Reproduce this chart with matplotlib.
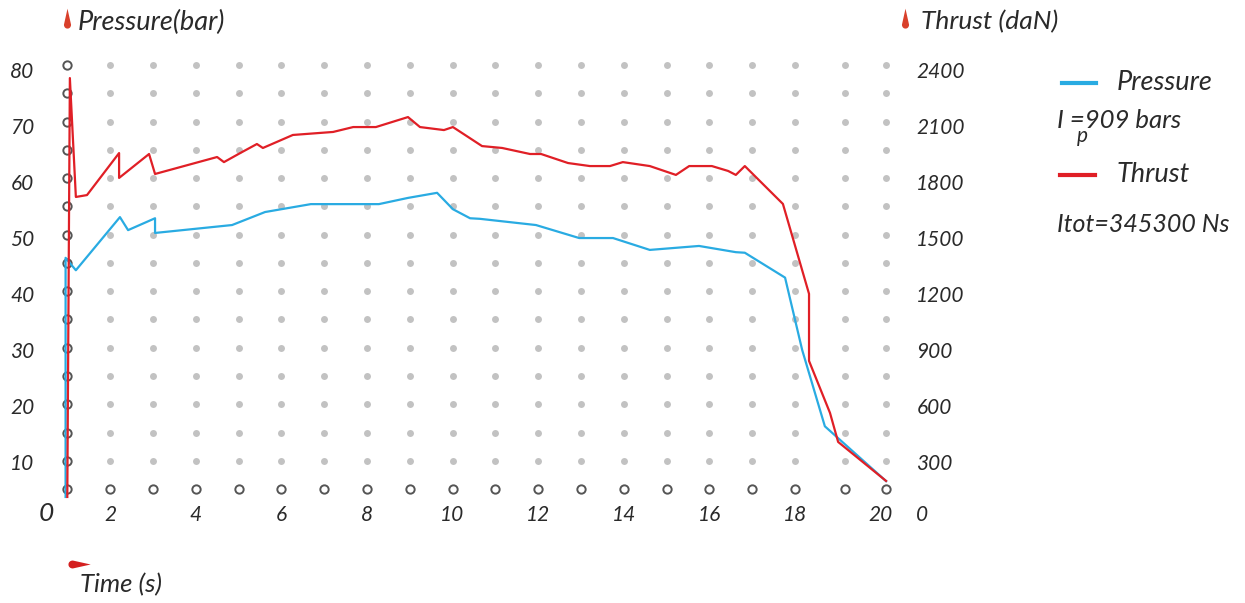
import matplotlib
matplotlib.use("Agg")
import matplotlib.pyplot as plt
from matplotlib.path import Path
from matplotlib.lines import Line2D
from matplotlib.transforms import ScaledTranslation

# ---- data ----
pressure_t = [0.96, 0.96, 1.20, 2.23, 2.42, 3.05, 3.05, 4.85, 5.62, 6.69, 8.28, 8.96, 9.64,
              10.01, 10.41, 10.64, 11.95, 12.96, 13.75, 14.61, 15.76, 16.62, 16.83, 17.77,
              18.17, 18.70, 20.13]
pressure_bar = [3.6, 45.9, 43.7, 53.1, 50.8, 52.9, 50.3, 51.7, 54.0, 55.4, 55.4, 56.5, 57.4,
                54.5, 52.9, 52.8, 51.7, 49.4, 49.4, 47.3, 48.0, 46.9, 46.8, 42.4,
                29.6, 16.1, 6.4]

thrust_t = [1.00, 1.06, 1.20, 1.46, 2.21, 2.21, 2.91, 3.05, 4.50, 4.66, 5.04, 5.43, 5.57,
            6.27, 7.21, 7.68, 8.21, 8.96, 9.24, 9.80, 10.01, 10.69, 11.16, 11.81, 12.07,
            12.70, 13.21, 13.68, 13.98, 14.61, 15.22, 15.53, 16.06, 16.44, 16.62, 16.83,
            17.72, 18.33, 18.33, 18.82, 19.01, 20.13]
thrust_dan = [108, 2331, 1700, 1710, 1933, 1801, 1928, 1822, 1912, 1885, 1933, 1981, 1960,
              2029, 2045, 2071, 2071, 2124, 2071, 2055, 2071, 1970, 1960, 1928, 1928,
              1880, 1864, 1864, 1885, 1864, 1817, 1864, 1864, 1838, 1817, 1864,
              1663, 1186, 830, 554, 400, 193]

time_ticks = [2, 4, 6, 8, 10, 12, 14, 16, 18, 20]
pressure_ticks = [10, 20, 30, 40, 50, 60, 70, 80]
thrust_ticks = [0, 300, 600, 900, 1200, 1500, 1800, 2100, 2400]

# background dot grid
grid_cols = [1, 2, 3, 4, 5, 6, 7, 8, 9, 10, 11, 12, 13, 14, 15, 16, 17, 18, 19.17, 20.13]
grid_rows = [5, 10, 15, 20, 25, 30, 35, 40, 45, 50, 55, 60, 65, 70, 75, 80]

BLUE = "#29abe2"
RED = "#e01f26"
TXT = "#2a2a2a"
FONT = "Lato"

plt.rcParams["font.family"] = [FONT, "DejaVu Sans"]
plt.rcParams["font.style"] = "italic"

W, H = 1245, 603
fig = plt.figure(figsize=(W / 100, H / 100), dpi=100)


def shift(px_down):
    # small vertical nudge for tick labels, in pixels
    return ScaledTranslation(0, -px_down / 100, fig.dpi_scale_trans)


# t=0 at x=24.5px, 42.8 px/s ; p=0 at y=517.3px, 5.653 px/bar
ax = fig.add_axes([24.5 / W, (H - 517.3) / H, (42.8 * 21) / W, (5.653 * 85) / H])
ax.set_xlim(0, 21)
ax.set_ylim(0, 85)
for s in ax.spines.values():
    s.set_visible(False)

# dots
for c in grid_cols:
    for r in grid_rows:
        if c == grid_cols[0] or r == grid_rows[0]:
            ax.plot(c, r, marker="o", ms=6, mfc="white", mec="#555555", mew=1.4, zorder=2)
        else:
            ax.plot(c, r, marker="o", ms=5, mfc="#c2c2c2", mec="none", zorder=2)

ax.plot(pressure_t, pressure_bar, color=BLUE, lw=1.6, zorder=3)

ax.set_xticks(time_ticks)
ax.set_xticklabels([str(t) for t in time_ticks])
ax.tick_params(axis="x", length=0, pad=-8.5, labelsize=15, labelcolor=TXT)
ax.set_yticks(pressure_ticks)
ax.set_yticklabels([str(p) for p in pressure_ticks])
ax.tick_params(axis="y", length=0, pad=-7, labelsize=15, labelcolor=TXT)
for v, lab in zip(pressure_ticks, ax.get_yticklabels()):
    lab.set_transform(lab.get_transform() + shift(1 + 4 * (v - 10) / 70))

ax.text(0.5, 0, "0", fontsize=19, color=TXT, ha="center", va="center",
        transform=ax.transData + shift(-4))

ax2 = ax.twinx()
ax2.set_ylim(0, 85 * 30)
for s in ax2.spines.values():
    s.set_visible(False)
ax2.plot(thrust_t, thrust_dan, color=RED, lw=1.6, zorder=3)
ax2.set_yticks(thrust_ticks)
ax2.set_yticklabels([str(v) for v in thrust_ticks])
ax2.tick_params(axis="y", length=0, pad=-5, labelsize=15, labelcolor=TXT)
for v, lab in zip(thrust_ticks, ax2.get_yticklabels()):
    d = -4 if v == 0 else 1 + 4 * (v - 300) / 2100
    lab.set_transform(lab.get_transform() + shift(d))

# teardrop markers
drop_up = Path([(0, 1), (0.3, -0.35), (0.3, -0.8), (-0.3, -0.8), (-0.3, -0.35), (0, 1), (0, 1)],
               [Path.MOVETO, Path.LINETO, Path.CURVE4, Path.CURVE4, Path.CURVE4,
                Path.LINETO, Path.CLOSEPOLY])
drop_right = Path([(1, 0), (-0.35, 0.3), (-0.8, 0.3), (-0.8, -0.3), (-0.35, -0.3), (1, 0), (1, 0)],
                  [Path.MOVETO, Path.LINETO, Path.CURVE4, Path.CURVE4, Path.CURVE4,
                   Path.LINETO, Path.CLOSEPOLY])


def fx(px):
    return px / W


def fy(py):
    return 1 - py / H


fig.add_artist(Line2D([fx(67)], [fy(20)], marker=drop_up, ms=17, color="#d9402b", mec="none"))
fig.add_artist(Line2D([fx(905)], [fy(20)], marker=drop_up, ms=17, color="#d9402b", mec="none"))
fig.add_artist(Line2D([fx(77)], [fy(564)], marker=drop_right, ms=19, color="#d42020", mec="none"))

fig.text(fx(78), fy(22), "Pressure(bar)", fontsize=19.5, color=TXT, va="center")
fig.text(fx(921), fy(22), "Thrust (daN)", fontsize=19, color=TXT, va="center")
fig.text(fx(80), fy(585), "Time (s)", fontsize=18.5, color=TXT, va="center")

# legend
fig.add_artist(Line2D([fx(1062), fx(1096)], [fy(83), fy(83)], color=BLUE, lw=3))
fig.text(fx(1117), fy(83), "Pressure", fontsize=19.5, color=TXT, va="center")
fig.text(fx(1057), fy(120), "I =909 bars", fontsize=18.5, color=TXT, va="center")
fig.text(fx(1077), fy(136), "p", fontsize=15, color=TXT, va="center")
fig.add_artist(Line2D([fx(1060), fx(1095)], [fy(175), fy(175)], color=RED, lw=3))
fig.text(fx(1117), fy(175), "Thrust", fontsize=19.5, color=TXT, va="center")
fig.text(fx(1057), fy(224), "Itot=345300 Ns", fontsize=18, color=TXT, va="center")

fig.savefig("out.png", dpi=100)
